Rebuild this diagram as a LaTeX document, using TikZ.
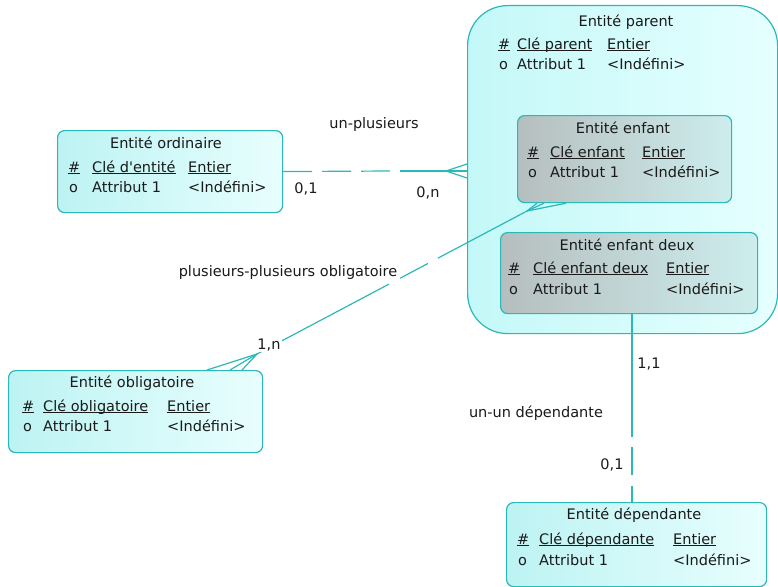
\documentclass[tikz,border=0pt]{standalone}
\usepackage{fontspec}
\setmainfont{DejaVu Sans}
\usetikzlibrary{calc}
\definecolor{tealB}{HTML}{2DB8B8}
\definecolor{txtc}{HTML}{1A1A1A}
\definecolor{cyanL}{HTML}{BDF3F3}
\definecolor{cyanR}{HTML}{E8FEFE}
\definecolor{grayL}{HTML}{B6BEBE}
\definecolor{grayR}{HTML}{CDEDED}
\definecolor{parL}{HTML}{C4F8F8}
\definecolor{parR}{HTML}{E6FFFF}
\newcommand\ulx[1]{\underline{\smash{#1}}}
\tikzset{
  ent/.style={draw=tealB, line width=1.2pt, rounded corners=7pt, left color=cyanL, right color=cyanR, anchor=north west, inner sep=0pt},
  childent/.style={ent, left color=grayL, right color=grayR},
  tx/.style={font=\fontsize{14.5}{16}\selectfont, text=txtc, inner sep=0pt},
  lbl/.style={tx, anchor=base west},
  ttl/.style={tx, anchor=base},
  conn/.style={draw=tealB, line width=1.2pt},
}
\begin{document}
\begin{tikzpicture}[x=1pt,y=-1pt]
\useasboundingbox (0,0) rectangle (778,586);
% boxes
\node[ent, rounded corners=40pt, left color=parL, right color=parR, minimum width=310pt, minimum height=328pt] (parent) at (467,5) {};
\node[childent, minimum width=214pt, minimum height=87pt] (enfant) at (517,115) {};
\node[childent, minimum width=257pt, minimum height=81pt] (enfant2) at (500,232) {};
\node[ent, minimum width=225pt, minimum height=82pt] (ordinaire) at (57,130) {};
\node[ent, minimum width=254pt, minimum height=82pt] (oblig) at (8,370) {};
\node[ent, minimum width=260pt, minimum height=84pt] (dep) at (506,502) {};

% Entité parent
\node[ttl] (parT) at (626,27) {Entité parent};
\node[lbl] (parK1) at (498,49) {\ulx{\#}};
\node[lbl] (parK2) at (517,49) {\ulx{Clé parent}};
\node[lbl] (parK3) at (607,49) {\ulx{Entier}};
\node[lbl] (parA1) at (499,69) {o};
\node[lbl] (parA2) at (517,69) {Attribut 1};
\node[lbl] (parA3) at (607,69) {<Indéfini>};

% Entité enfant
\node[ttl] (enfT) at (623,133) {Entité enfant};
\node[lbl] (enfK1) at (527,157) {\ulx{\#}};
\node[lbl] (enfK2) at (550,157) {\ulx{Clé enfant}};
\node[lbl] (enfK3) at (642,157) {\ulx{Entier}};
\node[lbl] (enfA1) at (528,177) {o};
\node[lbl] (enfA2) at (550,177) {Attribut 1};
\node[lbl] (enfA3) at (642,177) {<Indéfini>};

% Entité enfant deux
\node[ttl] (en2T) at (627,250) {Entité enfant deux};
\node[lbl] (en2K1) at (508,273) {\ulx{\#}};
\node[lbl] (en2K2) at (533,273) {\ulx{Clé enfant deux}};
\node[lbl] (en2K3) at (666,273) {\ulx{Entier}};
\node[lbl] (en2A1) at (509,294) {o};
\node[lbl] (en2A2) at (533,294) {Attribut 1};
\node[lbl] (en2A3) at (666,294) {<Indéfini>};

% Entité ordinaire
\node[ttl] (ordT) at (166,148) {Entité ordinaire};
\node[lbl] (ordK1) at (68,172) {\ulx{\#}};
\node[lbl] (ordK2) at (92,172) {\ulx{Clé d\textquotesingle entité}};
\node[lbl] (ordK3) at (188,172) {\ulx{Entier}};
\node[lbl] (ordA1) at (69,192) {o};
\node[lbl] (ordA2) at (92,192) {Attribut 1};
\node[lbl] (ordA3) at (188,192) {<Indéfini>};

% Entité obligatoire
\node[ttl] (oblT) at (132,387) {Entité obligatoire};
\node[lbl] (oblK1) at (22,411) {\ulx{\#}};
\node[lbl] (oblK2) at (43,411) {\ulx{Clé obligatoire}};
\node[lbl] (oblK3) at (167,411) {\ulx{Entier}};
\node[lbl] (oblA1) at (23,431) {o};
\node[lbl] (oblA2) at (43,431) {Attribut 1};
\node[lbl] (oblA3) at (167,431) {<Indéfini>};

% Entité dépendante
\node[ttl] (depT) at (634,519) {Entité dépendante};
\node[lbl] (depK1) at (517,544) {\ulx{\#}};
\node[lbl] (depK2) at (539,544) {\ulx{Clé dépendante}};
\node[lbl] (depK3) at (673,544) {\ulx{Entier}};
\node[lbl] (depA1) at (518,565) {o};
\node[lbl] (depA2) at (539,565) {Attribut 1};
\node[lbl] (depA3) at (673,565) {<Indéfini>};

% un-plusieurs
\coordinate (cfA) at (446,171);
\coordinate (s1) at (390,171);
\coordinate (s2) at (400,171);
\draw[conn, dash pattern=on 29pt off 10pt] (ordinaire.east) -- (s1);
\draw[conn] (s2) -- (cfA);
\draw[conn] (cfA) -- (parent.north west |- cfA);
\draw[conn] (cfA) -- ($(parent.north west |- cfA)+(0,-7)$);
\draw[conn] (cfA) -- ($(parent.north west |- cfA)+(0,7)$);
\node[ttl] (lblUP) at (374,128) {un-plusieurs};
\node[ttl] (lblUP1) at (306,193) {0,1};
\node[ttl] (lblUP2) at (428,197) {0,n};

% plusieurs-plusieurs obligatoire
\coordinate (cfB) at (527,211);
\coordinate (cfC) at (257,354);
\draw[conn] (cfB) -- ($(cfB)!0.33!(cfC)$);
\draw[conn] ($(cfB)!0.367!(cfC)$) -- ($(cfB)!0.47!(cfC)$);
\draw[conn] ($(cfB)!0.511!(cfC)$) -- (cfC);
\draw[conn] (cfB) -- ($(enfant.south west)+(20,0)$);
\draw[conn] (cfB) -- ($(enfant.south west)+(27,0)$);
\draw[conn] (cfB) -- ($(enfant.south west)+(49,0)$);
\draw[conn] (cfC) -- ($(oblig.north west)+(199,0)$);
\draw[conn] (cfC) -- ($(oblig.north west)+(222,0)$);
\draw[conn] (cfC) -- ($(oblig.north west)+(234,0)$);
\node[ttl] (lblPP) at (288,276) {plusieurs-plusieurs obligatoire};
\node[ttl, fill=white, inner sep=1pt] (lblPP1) at (269,349) {1,n};

% un-un dépendante
\coordinate (u1) at ($(enfant2.south west)+(132,0)$);
\coordinate (u2) at (u1 |- dep.north);
\draw[conn] (u1) -- ($(u1)!0.656!(u2)$);
\draw[conn] ($(u1)!0.709!(u2)$) -- ($(u1)!0.857!(u2)$);
\draw[conn] ($(u1)!0.915!(u2)$) -- (u2);
\node[ttl] (lblUU) at (536,417) {un-un dépendante};
\node[ttl] (lblUU1) at (649,368) {1,1};
\node[ttl] (lblUU2) at (612,469) {0,1};
\end{tikzpicture}
\end{document}
